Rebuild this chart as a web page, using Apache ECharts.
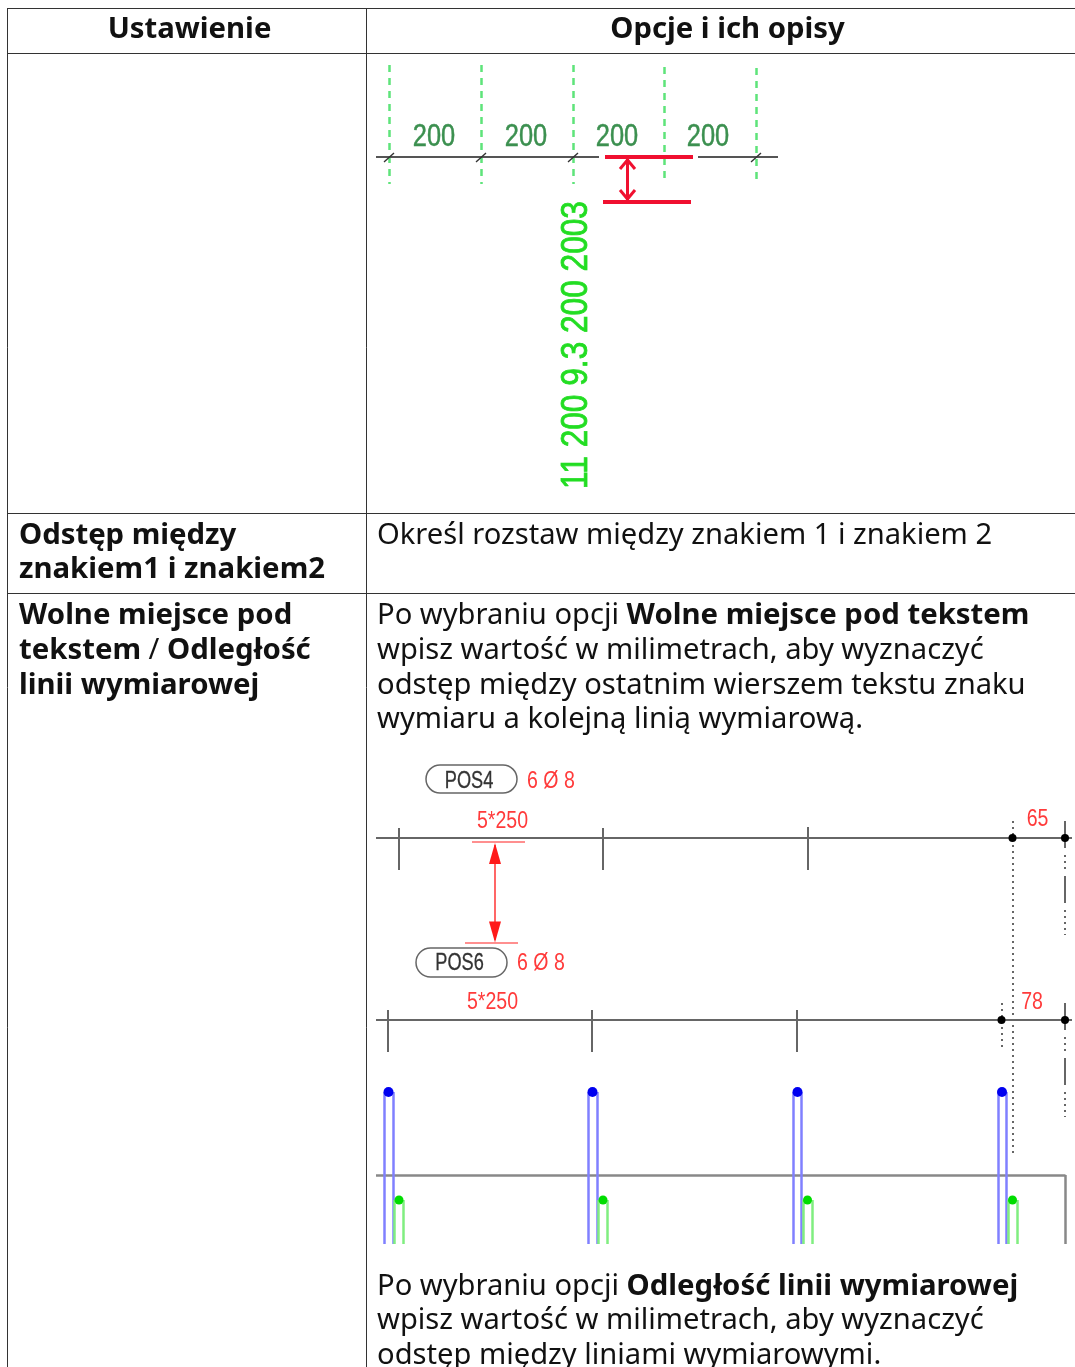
<!DOCTYPE html>
<html lang="pl">
<head>
<meta charset="utf-8">
<title>Ustawienie</title>
<script src="https://cdn.jsdelivr.net/npm/echarts@6/dist/echarts.min.js"></script>
<style>
  html, body { margin: 0; padding: 0; background: #fff; }
  #main { width: 1075px; height: 1367px; }
</style>
</head>
<body>
<div id="main"></div>
<script>
// table text: [x, y, text] ({b|...} = bold run)
const headerCells = [
  [189.5, 30, "Ustawienie"],
  [727.5, 30, "Opcje i ich opisy"]
];
const tableText = [
  [19, 536, "{b|Odstęp między}"],
  [19, 570, "{b|znakiem1 i znakiem2}"],
  [377, 536, "Określ rozstaw między znakiem 1 i znakiem 2"],
  [19, 616, "{b|Wolne miejsce pod}"],
  [19, 651, "{b|tekstem} / {b|Odległość}"],
  [19, 686, "{b|linii wymiarowej}"],
  [377, 616, "Po wybraniu opcji {b|Wolne miejsce pod tekstem}"],
  [377, 651, "wpisz wartość w milimetrach, aby wyznaczyć"],
  [377, 686, "odstęp między ostatnim wierszem tekstu znaku"],
  [377, 720, "wymiaru a kolejną linią wymiarową."],
  [377, 1287, "Po wybraniu opcji {b|Odległość linii wymiarowej}"],
  [377, 1321, "wpisz wartość w milimetrach, aby wyznaczyć"],
  [377, 1356, "odstęp między liniami wymiarowymi."]
];
const tableRules = [
  [7, 8.5, 1075, 8.5], [7, 53.5, 1075, 53.5], [7, 513.5, 1075, 513.5], [7, 593.5, 1075, 593.5],
  [7.5, 8, 7.5, 1367], [366.5, 8, 366.5, 1367]
];

// upper drawing
const gridLabels = [[434, 137, "200"], [526, 137, "200"], [617, 137, "200"], [708, 137, "200"]];
const barCodeText = [[577, 345, "11 200 9.3 200 2003"]];
const greenDashes = [
  [389, 65, 389, 184], [481, 65, 481, 184], [573, 65, 573, 184], [664, 67, 664, 184], [756, 68, 756, 184]
];
const gridLine = [[376, 157, 599, 157], [698, 157, 778, 157]];
const gridSlashes = [
  [384, 162, 394, 153], [476, 162, 486, 153], [568, 162, 578, 153], [751, 162, 761, 153]
];
const redBars = [[605, 157, 693, 157], [603, 202, 691, 202]];
const redArrow = [
  [627.5, 158, 627.5, 201],
  [620, 169, 627.5, 160], [635, 169, 627.5, 160],
  [620, 190, 627.5, 199], [635, 190, 627.5, 199]
];

// lower drawing
const pills = [[426, 765, 517, 793], [416, 948, 507, 977]];
const pillText = [[469, 782, "POS4"], [459.5, 964, "POS6"]];
const redLeft = [[527, 782, "6 Ø 8"], [517, 964, "6 Ø 8"]];
const redCentre = [[502.5, 822, "5*250"], [492.5, 1003, "5*250"], [1037.5, 820, "65"], [1032, 1003, "78"]];
const dimLines = [[376, 838, 1072, 838], [376, 1020, 1072, 1020]];
const dimTicks = [
  [399, 828, 399, 870], [603, 828, 603, 870], [807.5, 827, 807.5, 870],
  [388, 1010, 388, 1052], [592, 1010, 592, 1052], [796.5, 1010, 796.5, 1052],
  [1065, 821, 1065, 848], [1065, 876, 1065, 903], [1065, 1003, 1065, 1030], [1065, 1058, 1065, 1085]
];
const dotted = [
  [1012.5, 821, 1012.5, 1156], [1001.5, 1003, 1001.5, 1050],
  [1065, 855, 1065, 871], [1065, 910, 1065, 935], [1065, 1037, 1065, 1053], [1065, 1092, 1065, 1117]
];
const blackDots = [[1012.5, 838], [1065, 838], [1001.5, 1020], [1065, 1020]];
const redRules = [[472, 841.5, 525, 841.5], [465, 942.5, 518, 942.5]];
const redShaft = [[495, 845, 495, 940]];
const arrowUp = [[495, 853.5]];
const arrowDown = [[495, 932]];
const barBlue = [
  [384, 1092, 384, 1244], [393, 1092, 393, 1244], [588.5, 1092, 588.5, 1244], [597.5, 1092, 597.5, 1244],
  [793, 1092, 793, 1244], [801.5, 1092, 801.5, 1244], [998, 1092, 998, 1244], [1006, 1092, 1006, 1244]
];
const blueDots = [[388.5, 1092], [592.5, 1092], [797.5, 1092], [1002, 1092]];
const barGreen = [
  [394.5, 1200, 394.5, 1244], [403, 1200, 403, 1244], [598.5, 1200, 598.5, 1244], [607.5, 1200, 607.5, 1244],
  [803, 1200, 803, 1244], [812, 1200, 812, 1244], [1008, 1200, 1008, 1244], [1017, 1200, 1017, 1244]
];
const greenDots = [[399, 1200], [603, 1200], [807.5, 1200], [1012.5, 1200]];
const beam = [[376, 1175.5, 1065.5, 1175.5], [1065.5, 1175, 1065.5, 1244]];

const bodyFont = "'Noto Sans', 'Open Sans', sans-serif";
const cadFont = "'Liberation Sans', sans-serif";

function segments(name, segs, lineStyle) {
  return {
    name, type: "lines", coordinateSystem: "cartesian2d", silent: true, animation: false,
    lineStyle: Object.assign({ opacity: 1, curveness: 0, cap: "butt" }, lineStyle),
    data: segs.map(s => ({ coords: [[s[0], s[1]], [s[2], s[3]]] }))
  };
}

function dots(name, points, color, size) {
  return {
    name, type: "scatter", silent: true, animation: false,
    symbolSize: size, itemStyle: { color, opacity: 1 }, data: points
  };
}

function texts(name, rows, label) {
  return {
    name, type: "scatter", silent: true, animation: false, symbolSize: 1,
    itemStyle: { color: "transparent", opacity: 1 },
    label: Object.assign({
      show: true, position: "inside", verticalAlign: "middle",
      formatter: p => rows[p.dataIndex][2]
    }, label),
    data: rows.map(r => [r[0], r[1]])
  };
}

// drawing labels are narrow CAD text, squeezed along the baseline
function cadTexts(name, rows, opt) {
  return {
    name, type: "custom", silent: true, animation: false, coordinateSystem: "cartesian2d",
    renderItem: (params, api) => {
      const p = api.coord([api.value(0), api.value(1)]);
      return {
        type: "text", x: p[0], y: p[1], scaleX: opt.squeeze, rotation: opt.rotation || 0,
        style: {
          text: rows[params.dataIndex][2], fill: opt.color, align: opt.align, verticalAlign: "middle",
          font: opt.size + "px " + cadFont, stroke: opt.color, lineWidth: opt.weight || 0
        }
      };
    },
    encode: { x: 0, y: 1 },
    data: rows.map(r => [r[0], r[1]])
  };
}

const bodyLabel = {
  align: "left", fontFamily: bodyFont, fontSize: 29.15, color: "#111",
  rich: { b: { fontFamily: bodyFont, fontSize: 29.35, fontWeight: "bold", color: "#111" } }
};

const chart = echarts.init(document.getElementById("main"), null, { renderer: "canvas" });
chart.setOption({
  animation: false,
  backgroundColor: "#fff",
  grid: { left: 0, top: 0, right: 0, bottom: 0 },
  xAxis: { type: "value", min: 0, max: 1075, show: false },
  yAxis: { type: "value", min: 0, max: 1367, inverse: true, show: false },
  series: [
    segments("rules", tableRules, { color: "#333", width: 1 }),
    texts("headers", headerCells, { align: "center", fontFamily: bodyFont, fontSize: 29.3, fontWeight: "bold", color: "#111" }),
    texts("text", tableText, bodyLabel),

    segments("greenDash", greenDashes, { color: "#5ee47a", width: 2.5, type: [7, 6] }),
    segments("gridLine", gridLine, { color: "#555", width: 1.8 }),
    segments("gridSlash", gridSlashes, { color: "#333", width: 1.4 }),
    segments("redBars", redBars, { color: "#f01030", width: 4 }),
    segments("redArrow", redArrow, { color: "#f01030", width: 3 }),
    cadTexts("gridLabels", gridLabels, { align: "center", squeeze: 0.82, size: 31, color: "#3c9050", weight: 0.5 }),
    cadTexts("barCode", barCodeText, { align: "center", squeeze: 0.855, size: 37, color: "#22dd22", rotation: Math.PI / 2, weight: 0.8 }),

    segments("beam", beam, { color: "#888", width: 2.5 }),
    segments("blue", barBlue, { color: "#8080ff", width: 2.5 }),
    segments("green", barGreen, { color: "#80ee80", width: 2.5 }),
    dots("blueDots", blueDots, "#0000f0", 10),
    dots("greenDots", greenDots, "#00dd00", 9),
    segments("dotted", dotted, { color: "#666", width: 2, type: [2, 4] }),
    segments("dimLines", dimLines, { color: "#666", width: 2 }),
    segments("dimTicks", dimTicks, { color: "#666", width: 2 }),
    dots("blackDots", blackDots, "#000", 8),
    segments("redRules", redRules, { color: "#ff6a6a", width: 1.5 }),
    segments("redShaft", redShaft, { color: "#ff4040", width: 1.6 }),
    {
      name: "arrowUp", type: "scatter", silent: true, animation: false, symbol: "triangle",
      symbolSize: [12, 21], itemStyle: { color: "#ff1a1a", opacity: 1 }, data: arrowUp
    },
    {
      name: "arrowDown", type: "scatter", silent: true, animation: false, symbol: "triangle", symbolRotate: 180,
      symbolSize: [12, 21], itemStyle: { color: "#ff1a1a", opacity: 1 }, data: arrowDown
    },
    {
      name: "pills", type: "custom", silent: true, animation: false, coordinateSystem: "cartesian2d",
      renderItem: (params, api) => {
        const a = api.coord([api.value(0), api.value(1)]);
        const b = api.coord([api.value(2), api.value(3)]);
        return {
          type: "rect",
          shape: { x: a[0], y: a[1], width: b[0] - a[0], height: b[1] - a[1], r: (b[1] - a[1]) / 2 },
          style: { fill: "none", stroke: "#666", lineWidth: 1.5 }
        };
      },
      encode: { x: [0, 2], y: [1, 3] },
      data: pills
    },
    cadTexts("pillText", pillText, { align: "center", squeeze: 0.79, size: 23, color: "#333", weight: 0.3 }),
    cadTexts("redLeft", redLeft, { align: "left", squeeze: 0.85, size: 23, color: "#ff3a3a" }),
    cadTexts("redCentre", redCentre, { align: "center", squeeze: 0.85, size: 23, color: "#ff3a3a" })
  ]
});
</script>
</body>
</html>
